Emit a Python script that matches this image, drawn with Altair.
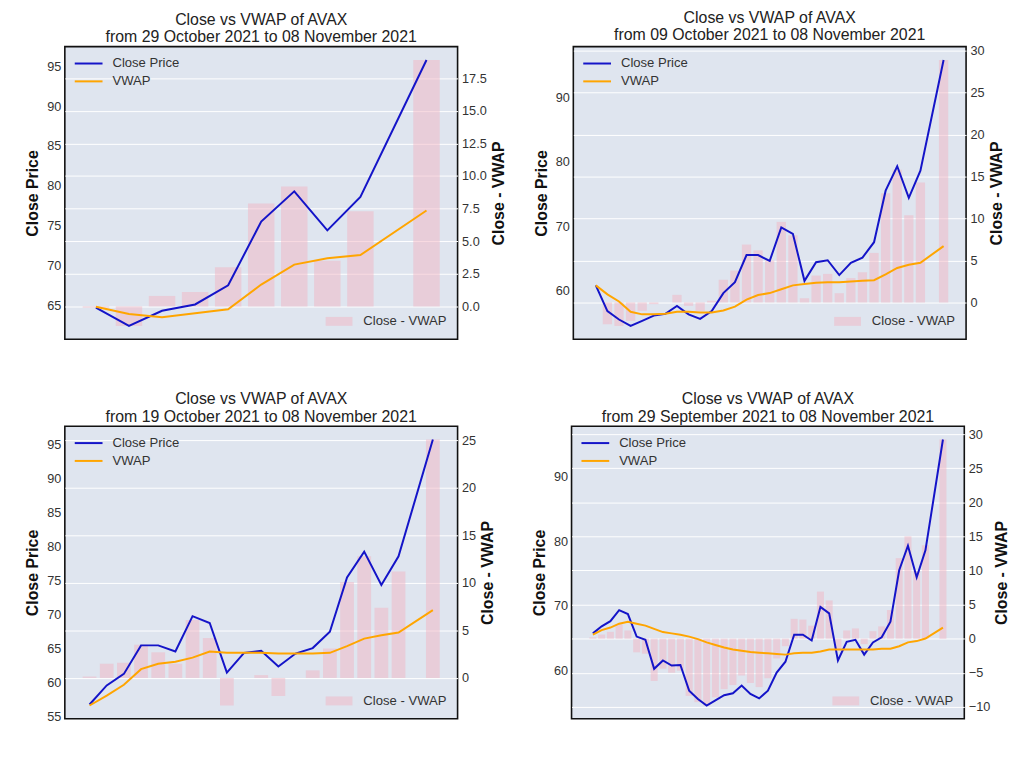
import altair as alt
import pandas as pd

# ---------------- data ----------------
dates = [
    "2021-09-29", "2021-09-30", "2021-10-01", "2021-10-02", "2021-10-03",
    "2021-10-04", "2021-10-05", "2021-10-06", "2021-10-07", "2021-10-08",
    "2021-10-09", "2021-10-10", "2021-10-11", "2021-10-12", "2021-10-13",
    "2021-10-14", "2021-10-15", "2021-10-16", "2021-10-17", "2021-10-18",
    "2021-10-19", "2021-10-20", "2021-10-21", "2021-10-22", "2021-10-23",
    "2021-10-24", "2021-10-25", "2021-10-26", "2021-10-27", "2021-10-28",
    "2021-10-29", "2021-10-30", "2021-10-31", "2021-11-01", "2021-11-02",
    "2021-11-03", "2021-11-04", "2021-11-05", "2021-11-06", "2021-11-08",
]
close = [
    65.7, 66.8, 67.6, 69.3, 68.7, 65.2, 64.7, 60.2, 61.5, 60.7,
    60.8, 56.8, 55.5, 54.5, 55.3, 56.1, 56.4, 57.6, 56.3, 55.6,
    56.8, 59.6, 61.3, 65.5, 65.5, 64.6, 69.8, 68.8, 61.5, 64.4,
    64.7, 62.4, 64.3, 65.1, 67.5, 75.5, 79.3, 74.4, 78.6, 95.8,
]
# VWAP accumulated from each panel's start date
vwap_from_oct29 = [64.8, 63.9, 63.5, 64.0, 64.5, 67.6, 70.1, 70.9, 71.3, 76.9]
vwap_from_oct09 = [
    60.8, 59.4, 58.3, 56.7, 56.3, 56.3, 56.4, 56.7, 56.7, 56.6,
    56.6, 56.9, 57.5, 58.6, 59.3, 59.6, 60.2, 60.8, 61.0, 61.2,
    61.3, 61.3, 61.4, 61.5, 61.6, 62.5, 63.5, 64.0, 64.3, 66.9,
]
vwap_from_oct19 = [
    56.65, 58.1, 59.7, 62.0, 62.8, 63.1, 63.7, 64.6, 64.4, 64.4,
    64.4, 64.3, 64.3, 64.3, 64.4, 65.4, 66.5, 67.0, 67.4, 70.7,
]
vwap_from_sep29 = [
    65.5, 66.2, 66.6, 67.2, 67.5, 67.2, 66.9, 66.4, 65.9, 65.7,
    65.5, 65.2, 64.8, 64.3, 63.9, 63.5, 63.2, 63.0, 62.8, 62.7,
    62.6, 62.5, 62.4, 62.6, 62.7, 62.7, 62.9, 63.2, 63.2, 63.2,
    63.2, 63.2, 63.2, 63.3, 63.3, 63.7, 64.3, 64.5, 64.9, 66.6,
]

panel_starts = ["2021-10-29", "2021-10-09", "2021-10-19", "2021-09-29"]
panel_from_labels = ["29 October 2021", "09 October 2021", "19 October 2021", "29 September 2021"]
panel_vwaps = [vwap_from_oct29, vwap_from_oct09, vwap_from_oct19, vwap_from_sep29]
left_ticks = [
    [65, 70, 75, 80, 85, 90, 95],
    [60, 70, 80, 90],
    [55, 60, 65, 70, 75, 80, 85, 90, 95],
    [60, 70, 80, 90],
]
right_ticks = [
    [0, 2.5, 5, 7.5, 10, 12.5, 15, 17.5],
    [0, 5, 10, 15, 20, 25, 30],
    [0, 5, 10, 15, 20, 25],
    [-10, -5, 0, 5, 10, 15, 20, 25, 30],
]
right_formats = [".1f", "d", "d", "d"]
end_label = "08 November 2021"
series_names = ["Close Price", "VWAP"]
bar_name = "Close - VWAP"

FONT = "Liberation Sans"
W, H = 396, 295


def margin_domain(lo, hi, frac=0.05):
    r = hi - lo
    return [lo - frac * r, hi + frac * r]


def panel(k):
    start = panel_starts[k]
    i0 = dates.index(start)
    df = pd.DataFrame({
        "date": pd.to_datetime(dates[i0:]),
        "Close Price": close[i0:],
        "VWAP": panel_vwaps[k],
    })
    df["day"] = (df["date"] - df["date"].iloc[0]).dt.days
    df["diff"] = df["Close Price"] - df["VWAP"]
    df["zero"] = 0.0
    df["bar_lab"] = bar_name
    df["date"] = df["date"].dt.strftime("%Y-%m-%d")

    xdom = margin_domain(df["day"].min() - 0.4, df["day"].max() + 0.4)
    ldom = margin_domain(min(df["Close Price"].min(), df["VWAP"].min()),
                         max(df["Close Price"].max(), df["VWAP"].max()))
    rdom = margin_domain(min(df["diff"].min(), 0), max(df["diff"].max(), 0))

    xscale = alt.Scale(domain=xdom, nice=False, zero=False)
    base = alt.Chart(df)

    bars = base.transform_calculate(
        xs="datum.day - 0.4", xe="datum.day + 0.4"
    ).mark_bar(opacity=0.5).encode(
        x=alt.X("xs:Q", scale=xscale, axis=None),
        x2="xe:Q",
        y=alt.Y("diff:Q",
                scale=alt.Scale(domain=rdom, nice=False, zero=False),
                axis=alt.Axis(orient="right", title=bar_name, values=right_ticks[k],
                              format=right_formats[k], labelPadding=4, titlePadding=4,
                              titleAngle=270, titleBaseline="top")),
        y2="zero:Q",
        fill=alt.Fill("bar_lab:N",
                      scale=alt.Scale(domain=[bar_name], range=["#f2b6c4"]),
                      legend=alt.Legend(orient="bottom-right", title=None, offset=11,
                                        symbolType="M-1,-0.5H2V0.5H-1Z", symbolSize=324,
                                        labelOffset=20, symbolStrokeWidth=0)),
    )

    lines = base.transform_fold(
        series_names, as_=["series", "price"]
    ).mark_line(strokeWidth=2).encode(
        x=alt.X("day:Q", scale=xscale, axis=None),
        y=alt.Y("price:Q",
                scale=alt.Scale(domain=ldom, nice=False, zero=False),
                axis=alt.Axis(orient="left", title="Close Price", values=left_ticks[k],
                              labelPadding=4, titlePadding=6)),
        stroke=alt.Stroke("series:N",
                          scale=alt.Scale(domain=series_names, range=["#1414c8", "#ffa500"]),
                          legend=alt.Legend(orient="top-left", title=None, offset=9,
                                            symbolType="M-1,0H3", symbolSize=196,
                                            symbolStrokeWidth=2, labelOffset=23,
                                            rowPadding=3)),
    )

    return alt.layer(bars, lines).resolve_scale(y="independent").properties(
        width=W, height=H,
        title=alt.Title(["Close vs VWAP of AVAX",
                         f"from {panel_from_labels[k]} to {end_label}"],
                        fontSize=16, fontWeight="normal", anchor="middle",
                        frame="group", offset=1.7, color="#222222", font=FONT,
                        lineHeight=17.3),
    )


def resolved(c):
    return c.resolve_scale(x="independent", y="independent",
                           stroke="independent", fill="independent").resolve_legend(
        stroke="independent", fill="independent")


row1 = resolved(alt.hconcat(panel(0), panel(1), spacing=24.7))
row2 = resolved(alt.hconcat(panel(2), panel(3), spacing=32.9))
chart = resolved(alt.vconcat(row1, row2, spacing=50.7)).properties(
    padding={"left": 15.3, "top": -2, "right": 1, "bottom": 0},
    background="white",
).configure_view(
    fill="#dfe5ef", stroke="#111111", strokeWidth=1.6,
).configure_axis(
    grid=True, gridColor="white", gridWidth=1, domain=False, ticks=False,
    labelFont=FONT, labelFontSize=12.8, labelColor="#333333",
    titleFont=FONT, titleFontSize=16, titleFontWeight="bold", titleColor="#111111",
).configure_legend(
    labelFont=FONT, labelFontSize=13.2, labelColor="#333333", padding=0,
)

chart.save("out.html", embed_options={"renderer": "svg", "actions": False})
